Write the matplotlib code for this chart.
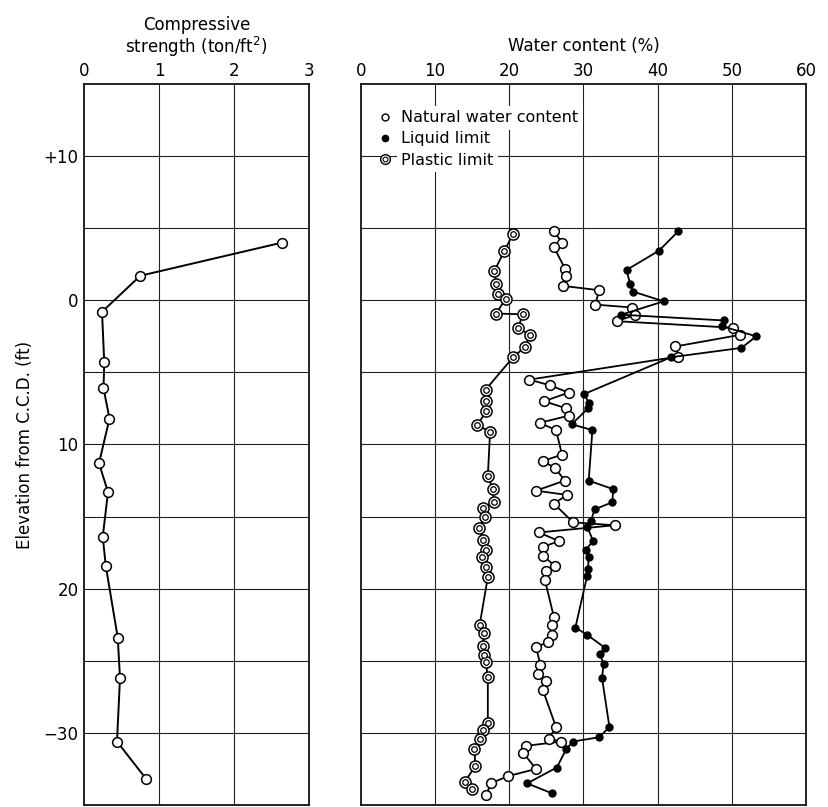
import numpy as np
import matplotlib
matplotlib.use("Agg")
import matplotlib.pyplot as plt
from matplotlib.lines import Line2D

plt.rcParams['font.family'] = ['DejaVu Sans']

# compressive strength (ton/ft2) vs elevation (ft)
strength = [2.64, 0.75, 0.24, 0.27, 0.26, 0.34, 0.20, 0.32, 0.25, 0.29, 0.45, 0.48, 0.44, 0.83]
elevStr = [4.0, 1.7, -0.8, -4.3, -6.1, -8.2, -11.3, -13.3, -16.4, -18.4, -23.4, -26.2, -30.6, -33.2]

# natural water content (%)
natW = [26.0, 27.1, 26.0, 27.5, 27.6, 27.2, 32.1, 31.6, 36.6, 37.0, 34.5, 50.1, 51.1, 42.4, 42.8,
        22.7, 25.5, 28.0, 24.7, 27.7, 28.0, 24.1, 26.3, 27.1, 24.5, 26.1, 27.5, 23.6, 27.8, 26.0,
        28.6, 34.2, 24.0, 26.7, 24.5, 24.5, 26.1, 24.9, 24.8, 26.0, 25.8, 25.7, 25.2, 23.6, 24.2,
        23.8, 25.0, 24.5, 26.3, 25.3, 27.0, 22.2, 21.9, 23.6, 19.8, 17.5, 16.9]
natE = [4.8, 4.0, 3.7, 2.2, 1.7, 1.0, 0.7, -0.3, -0.5, -1.0, -1.45, -1.9, -2.4, -3.2, -3.9,
        -5.5, -5.9, -6.4, -7.0, -7.5, -8.0, -8.5, -9.0, -10.7, -11.15, -11.6, -12.5, -13.2, -13.5, -14.1,
        -15.4, -15.6, -16.1, -16.7, -17.1, -17.7, -18.4, -18.8, -19.4, -21.95, -22.55, -23.2, -23.7, -24.05, -25.3,
        -25.9, -26.4, -27.0, -29.6, -30.4, -30.6, -30.9, -31.4, -32.5, -33.0, -33.5, -34.3]

# liquid limit (%)
liqW = [42.8, 40.2, 35.8, 36.3, 36.7, 40.8, 35.1, 49.0, 48.7, 53.3, 51.3, 41.8, 30.1, 30.7, 30.6,
        28.4, 31.2, 30.7, 34.0, 33.9, 31.5, 31.0, 30.5, 31.3, 30.3, 30.7, 30.6, 30.5, 28.9, 30.5,
        32.9, 32.2, 32.7, 32.5, 33.5, 32.1, 28.6, 27.7, 26.4, 22.4, 25.8]
liqE = [4.8, 3.45, 2.1, 1.1, 0.6, -0.07, -1.0, -1.4, -1.8, -2.5, -3.3, -3.95, -6.5, -7.1, -7.5,
        -8.6, -9.0, -12.5, -13.1, -14.0, -14.5, -15.3, -15.7, -16.7, -17.3, -17.8, -18.6, -19.1, -22.7, -23.2,
        -24.1, -24.55, -25.2, -26.2, -29.6, -30.3, -30.6, -31.1, -32.4, -33.5, -34.2]

# plastic limit (%)
plaW = [20.5, 19.3, 18.0, 18.2, 18.5, 19.5, 18.2, 21.8, 21.2, 22.8, 22.1, 20.5, 16.8, 16.9, 16.9,
        15.7, 17.4, 17.1, 17.8, 17.9, 16.4, 16.7, 15.9, 16.5, 16.9, 16.3, 16.8, 17.1, 16.0, 16.6,
        16.4, 16.6, 16.8, 17.1, 17.1, 16.5, 16.0, 15.3, 15.4, 14.0, 14.9]
plaE = [4.6, 3.4, 2.05, 1.15, 0.46, 0.09, -0.92, -0.97, -1.93, -2.41, -3.24, -3.95, -6.2, -6.97, -7.7,
        -8.62, -9.15, -12.2, -13.1, -14.0, -14.4, -15.05, -15.8, -16.6, -17.3, -17.8, -18.5, -19.2, -22.5, -23.1,
        -24.0, -24.6, -25.1, -26.1, -29.3, -29.8, -30.4, -31.1, -32.3, -33.4, -33.9]

elevTicks = [10, 0, -10, -20, -30]
elevLabels = ['+10', '0', '10', '20', '\u221230']

fig = plt.figure(figsize=(8.29, 8.07), dpi=100)
axL = fig.add_axes([84/829, 2/807, 225/829, 721/807])
axR = fig.add_axes([361/829, 2/807, 445/829, 721/807])

gridKw = dict(color='#222222', lw=0.8, zorder=0)
for ax in (axL, axR):
    ax.set_ylim(-35, 15)
    for y in range(-30, 15, 5):
        ax.axhline(y, **gridKw)
    ax.xaxis.tick_top()
    ax.xaxis.set_label_position('top')
    ax.tick_params(axis='both', length=0, labelsize=12, pad=3)
    for s in ax.spines.values():
        s.set_linewidth(1.3)
        s.set_color('#111111')

axL.set_xlim(0, 3)
axL.set_xticks([0, 1, 2, 3])
for x in (1, 2):
    axL.axvline(x, **gridKw)
axL.set_yticks(elevTicks)
axL.set_yticklabels(elevLabels)
axL.tick_params(axis='y', pad=4)
axL.set_xlabel('Compressive\nstrength (ton/ft$^2$)', fontsize=12, labelpad=6.5, linespacing=1.05)
axL.set_ylabel('Elevation from C.C.D. (ft)', fontsize=12, labelpad=7)
axL.plot(strength, elevStr, '-o', color='black', lw=1.4, ms=7, mfc='white', mec='black', mew=1.1, zorder=3)

axR.set_xlim(0, 60)
axR.set_xticks(range(0, 70, 10))
for x in range(10, 60, 10):
    axR.axvline(x, **gridKw)
axR.set_yticks([])
axR.set_xlabel('Water content (%)', fontsize=12, labelpad=8)

axR.plot(plaW, plaE, '-', color='black', lw=1.3, zorder=2)
axR.plot(plaW, plaE, 'o', ls='none', ms=8, mfc='white', mec='black', mew=1.1, zorder=3)
axR.plot(plaW, plaE, 'o', ls='none', ms=4, mfc='white', mec='black', mew=0.9, zorder=4)
axR.plot(natW, natE, '-o', color='black', lw=1.3, ms=7, mfc='white', mec='black', mew=1.1, zorder=3)
axR.plot(liqW, liqE, '-o', color='black', lw=1.3, ms=5, mfc='black', mec='black', zorder=3)

hNat = Line2D([], [], ls='none', marker='o', ms=5, mfc='white', mec='black', mew=1)
hLiq = Line2D([], [], ls='none', marker='o', ms=4.5, mfc='black', mec='black')
hPla1 = Line2D([], [], ls='none', marker='o', ms=7, mfc='white', mec='black', mew=1)
hPla2 = Line2D([], [], ls='none', marker='o', ms=3.5, mfc='white', mec='black', mew=0.8)
leg = axR.legend([hNat, hLiq, (hPla1, hPla2)],
                 ['Natural water content', 'Liquid limit', 'Plastic limit'],
                 loc='upper left', bbox_to_anchor=(0.01, 0.98), fontsize=11.5,
                 handlelength=0.9, handletextpad=0.6, labelspacing=0.38, borderpad=0.25,
                 frameon=False)
# white patch only behind each label, so grid lines show elsewhere
for t in leg.get_texts():
    t.set_bbox(dict(facecolor='white', edgecolor='none', pad=3))

fig.savefig('out.png', dpi=100)
